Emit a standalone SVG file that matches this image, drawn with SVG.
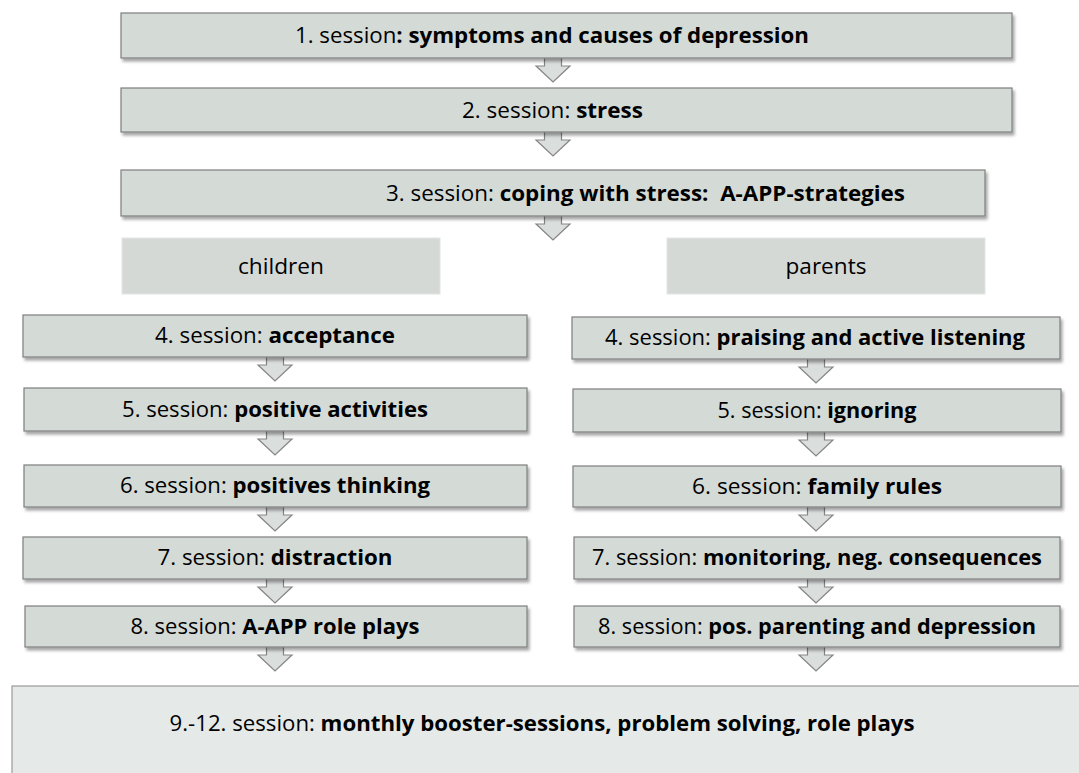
<svg xmlns="http://www.w3.org/2000/svg" width="1079" height="773" viewBox="0 0 1079 773">
<defs>
<filter id="sh" x="-5%" y="-30%" width="110%" height="170%">
<feDropShadow dx="2" dy="3" stdDeviation="1.8" flood-color="#000" flood-opacity="0.35"/>
</filter>
<style>
.box{fill:#d4dad6;stroke:#7f7f7f;stroke-width:1.2;filter:url(#sh)}
.hdr{fill:#d4d9d6;stroke:#e2e5e3;stroke-width:1}
.big{fill:#e5e9e7;stroke:#9a9a9a;stroke-width:1.2}
.arr{fill:#dadedc;stroke:#858585;stroke-width:1.2;stroke-linejoin:miter}
text{font-family:"Open Sans","Liberation Sans",sans-serif;font-size:21px;fill:#000}
.b{font-weight:bold}
</style>
</defs>
<rect width="1079" height="773" fill="#fff"/>
<g id="connectors">
<path class="arr" d="M544.5,58 V66 H536 L553,82 L570,66 H561.5 V58"/>
<path class="arr" d="M544.5,132 V140 H536 L553,156 L570,140 H561.5 V132"/>
<path class="arr" d="M544.5,216 V224 H536 L553,240 L570,224 H561.5 V216"/>
<path class="arr" d="M266.5,357 V365 H258 L275,381 L292,365 H283.5 V357"/>
<path class="arr" d="M266.5,431 V439 H258 L275,455 L292,439 H283.5 V431"/>
<path class="arr" d="M266.5,507 V515 H258 L275,531 L292,515 H283.5 V507"/>
<path class="arr" d="M266.5,579 V587 H258 L275,603 L292,587 H283.5 V579"/>
<path class="arr" d="M266.5,647 V655 H258 L275,671 L292,655 H283.5 V647"/>
<path class="arr" d="M807.5,359 V367 H799 L816,383 L833,367 H824.5 V359"/>
<path class="arr" d="M807.5,432 V440 H799 L816,456 L833,440 H824.5 V432"/>
<path class="arr" d="M807.5,507 V515 H799 L816,531 L833,515 H824.5 V507"/>
<path class="arr" d="M807.5,579 V587 H799 L816,603 L833,587 H824.5 V579"/>
<path class="arr" d="M807.5,647 V655 H799 L816,671 L833,655 H824.5 V647"/>
</g>
<g id="s1"><rect class="box" x="121" y="13" width="891" height="45"/>
<text x="552" y="43" text-anchor="middle" textLength="514" lengthAdjust="spacingAndGlyphs">1. session<tspan class="b">: symptoms and causes of depression</tspan></text></g>
<g id="s2"><rect class="box" x="121" y="88" width="891" height="44"/>
<text x="552.5" y="118" text-anchor="middle" textLength="181" lengthAdjust="spacingAndGlyphs">2. session: <tspan class="b">stress</tspan></text></g>
<g id="s3"><rect class="box" x="121" y="170" width="864" height="46"/>
<text x="386" y="201" textLength="519" lengthAdjust="spacingAndGlyphs" xml:space="preserve">3. session: <tspan class="b">coping with stress:  A-APP-strategies</tspan></text></g>
<g id="children"><rect class="hdr" x="122" y="238" width="318" height="56"/>
<text x="281" y="274" text-anchor="middle" textLength="86" lengthAdjust="spacingAndGlyphs">children</text></g>
<g id="parents"><rect class="hdr" x="667" y="238" width="318" height="56"/>
<text x="826" y="274" text-anchor="middle" textLength="81" lengthAdjust="spacingAndGlyphs">parents</text></g>
<g id="c4"><rect class="box" x="23" y="315" width="504" height="42"/>
<text x="275" y="343" text-anchor="middle" textLength="240" lengthAdjust="spacingAndGlyphs">4. session: <tspan class="b">acceptance</tspan></text></g>
<g id="c5"><rect class="box" x="24" y="388" width="503" height="43"/>
<text x="275" y="417" text-anchor="middle" textLength="306" lengthAdjust="spacingAndGlyphs">5. session: <tspan class="b">positive activities</tspan></text></g>
<g id="c6"><rect class="box" x="24" y="465" width="503" height="42"/>
<text x="275" y="493" text-anchor="middle" textLength="310" lengthAdjust="spacingAndGlyphs">6. session: <tspan class="b">positives thinking</tspan></text></g>
<g id="c7"><rect class="box" x="23" y="537" width="504" height="42"/>
<text x="275" y="565" text-anchor="middle" textLength="235" lengthAdjust="spacingAndGlyphs">7. session: <tspan class="b">distraction</tspan></text></g>
<g id="c8"><rect class="box" x="25" y="606" width="502" height="41"/>
<text x="275" y="634" text-anchor="middle" textLength="289" lengthAdjust="spacingAndGlyphs">8. session: <tspan class="b">A-APP role plays</tspan></text></g>
<g id="p4"><rect class="box" x="572" y="317" width="488" height="42"/>
<text x="815" y="345" text-anchor="middle" textLength="420" lengthAdjust="spacingAndGlyphs">4. session: <tspan class="b">praising and active listening</tspan></text></g>
<g id="p5"><rect class="box" x="573" y="389" width="488" height="43"/>
<text x="817" y="418" text-anchor="middle" textLength="199" lengthAdjust="spacingAndGlyphs">5. session: <tspan class="b">ignoring</tspan></text></g>
<g id="p6"><rect class="box" x="573" y="466" width="488" height="41"/>
<text x="817" y="494" text-anchor="middle" textLength="250" lengthAdjust="spacingAndGlyphs">6. session: <tspan class="b">family rules</tspan></text></g>
<g id="p7"><rect class="box" x="574" y="537" width="486" height="42"/>
<text x="817" y="565" text-anchor="middle" textLength="450" lengthAdjust="spacingAndGlyphs">7. session: <tspan class="b">monitoring, neg. consequences</tspan></text></g>
<g id="p8"><rect class="box" x="574" y="606" width="486" height="41"/>
<text x="817" y="634" text-anchor="middle" textLength="438" lengthAdjust="spacingAndGlyphs">8. session: <tspan class="b">pos. parenting and depression</tspan></text></g>
<g id="s9"><rect class="big" x="12" y="686" width="1080" height="100"/>
<text x="542" y="731" text-anchor="middle" textLength="745" lengthAdjust="spacingAndGlyphs">9.-12. session: <tspan class="b">monthly booster-sessions, problem solving, role plays</tspan></text></g>
</svg>
